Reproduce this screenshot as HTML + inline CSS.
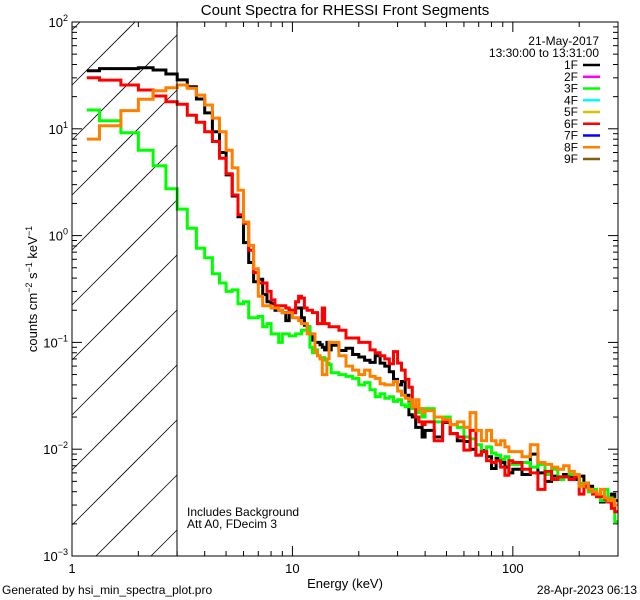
<!DOCTYPE html>
<html><head><meta charset="utf-8"><style>
html,body{margin:0;padding:0;background:#fff;width:640px;height:600px;overflow:hidden;}
svg{display:block;font-family:"Liberation Sans",sans-serif;overflow:hidden;}
</style></head><body>
<svg id="chart" width="640" height="600" viewBox="0 0 640 600">
<text x="345" y="15" font-size="15" text-anchor="middle">Count Spectra for RHESSI Front Segments</text>
<g id="hatch"></g>
<g id="axes"></g>
<g id="series"></g>
<rect x="72" y="22" width="546" height="534" fill="none" stroke="#000" stroke-width="1"/>
<line x1="177" y1="22" x2="177" y2="556" stroke="#000" stroke-width="1"/>
<text x="345" y="588" font-size="13" text-anchor="middle">Energy (keV)</text>
<text transform="translate(37,289) rotate(-90)" font-size="13" text-anchor="middle">counts cm<tspan dy="-5" font-size="9">−2</tspan><tspan dy="5"> s</tspan><tspan dy="-5" font-size="9">−1</tspan><tspan dy="5"> keV</tspan><tspan dy="-5" font-size="9">−1</tspan></text>
<text x="187" y="516" font-size="12">Includes Background</text>
<text x="187" y="528" font-size="12">Att A0, FDecim 3</text>
<text x="2" y="594" font-size="12">Generated by hsi_min_spectra_plot.pro</text>
<text x="637" y="594" font-size="12" text-anchor="end">28-Apr-2023 06:13</text>
<text x="599" y="45" font-size="12" text-anchor="end">21-May-2017</text>
<text x="599" y="57" font-size="12" text-anchor="end">13:30:00 to 13:31:00</text>
<g id="legend"></g>
</svg>
<script>
const legendLabels = ["1F","2F","3F","4F","5F","6F","7F","8F","9F"];
const legendColors = ["#000000","#ff00ff","#00ff00","#00ffff","#d4c400","#ff0000","#0000ff","#ff8000","#806000"];
const xTicks = [1,10,100];
const yTickExps = [2,1,0,-1,-2,-3];
const seriesNames = ["1F","3F","6F","8F"];
const seriesColors = ["#000000","#00ff00","#ff0000","#ff8000"];
const edgeSegments = [[1.1667,1.3333,1],[1.3333,15,41],[15,40,20],[40,100,15],[100,300,20]];
const black = [35,36.6,36.6,37.3,35.5,32.6,28.7,24.8,19,14.1,9.4,6,3.7,2.35,1.5,0.86,0.56,0.37,0.39,0.28,0.24,0.23,0.2,0.2,0.19,0.16,0.2,0.19,0.21,0.21,0.17,0.145,0.14,0.12,0.105,0.1,0.1,0.095,0.09,0.085,0.1,0.085,
0.094,0.084,0.088,0.077,0.073,0.068,0.065,0.075,0.064,0.06,0.053,0.045,0.04,0.043,0.032,0.021,0.02,0.016,0.016,0.013,
0.015,0.013,0.0178,0.014,0.012,0.0118,0.01,0.0088,0.0097,0.0085,0.0066,0.0082,0.0075,0.0068,0.006,
0.0065,0.0058,0.009,0.006,0.005,0.0056,0.0052,0.0058,0.0055,0.0052,0.0056,0.0048,0.0045,0.0041,0.0036,0.0032,0.0033,0.0032,0.0038,0.0033];
const green = [15,11.9,9.2,6.3,4.5,2.75,1.77,1.17,0.76,0.62,0.44,0.36,0.3,0.31,0.23,0.24,0.17,0.17,0.175,0.14,0.15,0.12,0.12,0.1,0.12,0.12,0.115,0.115,0.12,0.12,0.13,0.13,0.14,0.09,0.08,0.085,0.075,0.07,0.072,0.068,0.064,0.062,
0.052,0.05,0.048,0.046,0.04,0.042,0.036,0.031,0.033,0.03,0.031,0.028,0.029,0.026,0.025,0.027,0.024,0.022,0.024,0.02,
0.024,0.018,0.02,0.017,0.016,0.013,0.0125,0.011,0.0095,0.0105,0.0092,0.0088,0.008,0.0085,0.0072,
0.0072,0.0075,0.0068,0.0072,0.0058,0.0065,0.0052,0.0055,0.0058,0.0056,0.0048,0.0044,0.004,0.0042,0.0036,0.0033,0.0042,0.0035,0.0028,0.0021];
const red = [30.1,28.6,25.7,23.1,20.3,17.9,17,13.4,11.5,9.4,7.6,5.3,3.8,2.4,1.57,1.3,0.73,0.45,0.36,0.36,0.3,0.25,0.22,0.22,0.22,0.21,0.2,0.19,0.24,0.27,0.26,0.21,0.2,0.2,0.19,0.19,0.15,0.15,0.21,0.15,0.15,0.14,
0.14,0.13,0.11,0.11,0.1,0.1,0.085,0.08,0.075,0.07,0.063,0.082,0.064,0.055,0.045,0.038,0.025,0.02,0.018,0.017,
0.018,0.012,0.018,0.014,0.013,0.0098,0.015,0.0088,0.0095,0.0078,0.0075,0.0078,0.0068,0.0057,0.0078,
0.0075,0.0065,0.006,0.0042,0.0062,0.0052,0.0055,0.0055,0.0052,0.0055,0.0038,0.0045,0.0042,0.0038,0.0036,0.0036,0.0034,0.0032,0.0028,0.0026];
const orange = [8,10.7,14.8,18.9,22.7,24.2,25.7,24,20.7,16.7,12.6,9.4,6.3,4.3,2.66,1.34,0.81,0.49,0.27,0.22,0.22,0.21,0.21,0.2,0.19,0.19,0.19,0.17,0.17,0.16,0.15,0.15,0.12,0.12,0.12,0.082,0.075,0.07,0.05,0.05,0.07,0.1,
0.1,0.075,0.06,0.055,0.05,0.055,0.048,0.046,0.041,0.04,0.04,0.043,0.035,0.032,0.03,0.029,0.025,0.029,0.024,0.022,
0.023,0.02,0.019,0.017,0.018,0.016,0.022,0.015,0.012,0.015,0.012,0.011,0.012,0.0105,0.0095,
0.0095,0.0085,0.011,0.0075,0.0072,0.0068,0.0065,0.007,0.0062,0.0058,0.0045,0.0048,0.0042,0.004,0.0038,0.0042,0.0035,0.0033,0.0034,0.003];
const seriesValues = [black, green, red, orange];

const NS = "http://www.w3.org/2000/svg";
const L=72,R=618,T=22,B=556,HX=177, XMIN=1, XMAX=300, YMIN=-3, YMAX=2;
function xs(e){return L+(Math.log10(e)-Math.log10(XMIN))/(Math.log10(XMAX)-Math.log10(XMIN))*(R-L);}
function ys(v){return B-(Math.log10(v)-YMIN)/(YMAX-YMIN)*(B-T);}
function mk(tag,attrs,parent){const el=document.createElementNS(NS,tag);for(const k in attrs)el.setAttribute(k,attrs[k]);parent.appendChild(el);return el;}

const edges=[];
edgeSegments.forEach(function(s){const n=s[2];for(let i=0;i<n;i++){edges.push(s[0]+(s[1]-s[0])*i/n);}});
edges.push(300);

// hatch: lines y = c - (x - L), clipped analytically to [L,HX]x[T,B]
const hatch=document.getElementById('hatch');
for(let c=30;c<B+(HX-L);c+=55){
  let xa=L, ya=c;
  if(ya>B){xa=L+(ya-B);ya=B;}
  let xb=HX, yb=c-(HX-L);
  if(yb<T){xb=L+(c-T);yb=T;}
  if(xa>=xb) continue;
  const ln=mk('line',{x1:xa,y1:ya,x2:xb,y2:yb,stroke:'#000','stroke-width':0.8},hatch);
  
  
}

const axes=document.getElementById('axes');
for(let d=0;d<3;d++){
  for(let m=1;m<10;m++){
    const e=Math.pow(10,d)*m; if(e>XMAX) break;
    const x=xs(e), len=(m===1)?10:5;
    const t1=mk('line',{x1:x,y1:B,x2:x,y2:B-len,stroke:'#000','stroke-width':1},axes);
    
    
    const t2=mk('line',{x1:x,y1:T,x2:x,y2:T+len,stroke:'#000','stroke-width':1},axes);
    
    
  }
}
xTicks.forEach(function(v){
  const t=mk('text',{x:xs(v),y:B+17,'font-size':13,'text-anchor':'middle'},axes);
  t.textContent=String(v);
  
  
});
for(let p=-3;p<2;p++){
  for(let m=1;m<10;m++){
    const v=Math.pow(10,p)*m, y=ys(v), len=(m===1)?10:5;
    const a=mk('line',{x1:L,y1:y,x2:L+len,y2:y,stroke:'#000','stroke-width':1},axes);
    
    
    const b=mk('line',{x1:R,y1:y,x2:R-len,y2:y,stroke:'#000','stroke-width':1},axes);
    
    
  }
}
yTickExps.forEach(function(p){
  const y=ys(Math.pow(10,p));
  const t=mk('text',{x:L-4,y:y+5,'font-size':13,'text-anchor':'end'},axes);
  
  
  const base=document.createElementNS(NS,'tspan');base.textContent='10';t.appendChild(base);
  const sup=document.createElementNS(NS,'tspan');sup.setAttribute('dy','-6');sup.setAttribute('font-size','9');sup.textContent=(p<0?'−'+(-p):String(p));t.appendChild(sup);
});

const sg=document.getElementById('series');
seriesValues.forEach(function(vals,si){
  let d='';
  for(let i=0;i<vals.length;i++){
    const x0=xs(edges[i]), x1=xs(edges[i+1]), y=ys(vals[i]);
    d+=(i===0?'M':'L')+x0.toFixed(1)+','+y.toFixed(1)+'L'+x1.toFixed(1)+','+y.toFixed(1);
  }
  const p=mk('path',{d:d,fill:'none',stroke:seriesColors[si],'stroke-width':3,'stroke-linejoin':'miter'},sg);
  
  
});

const lg=document.getElementById('legend');
legendLabels.forEach(function(lab,i){
  const y=65+i*11.75;
  const t=mk('text',{x:578,y:y+4,'font-size':12,'text-anchor':'end'},lg);
  t.textContent=lab;
  
  
  const l=mk('line',{x1:583,y1:y,x2:600,y2:y,stroke:legendColors[i],'stroke-width':2.5},lg);
  
  
});
</script>
</body></html>
